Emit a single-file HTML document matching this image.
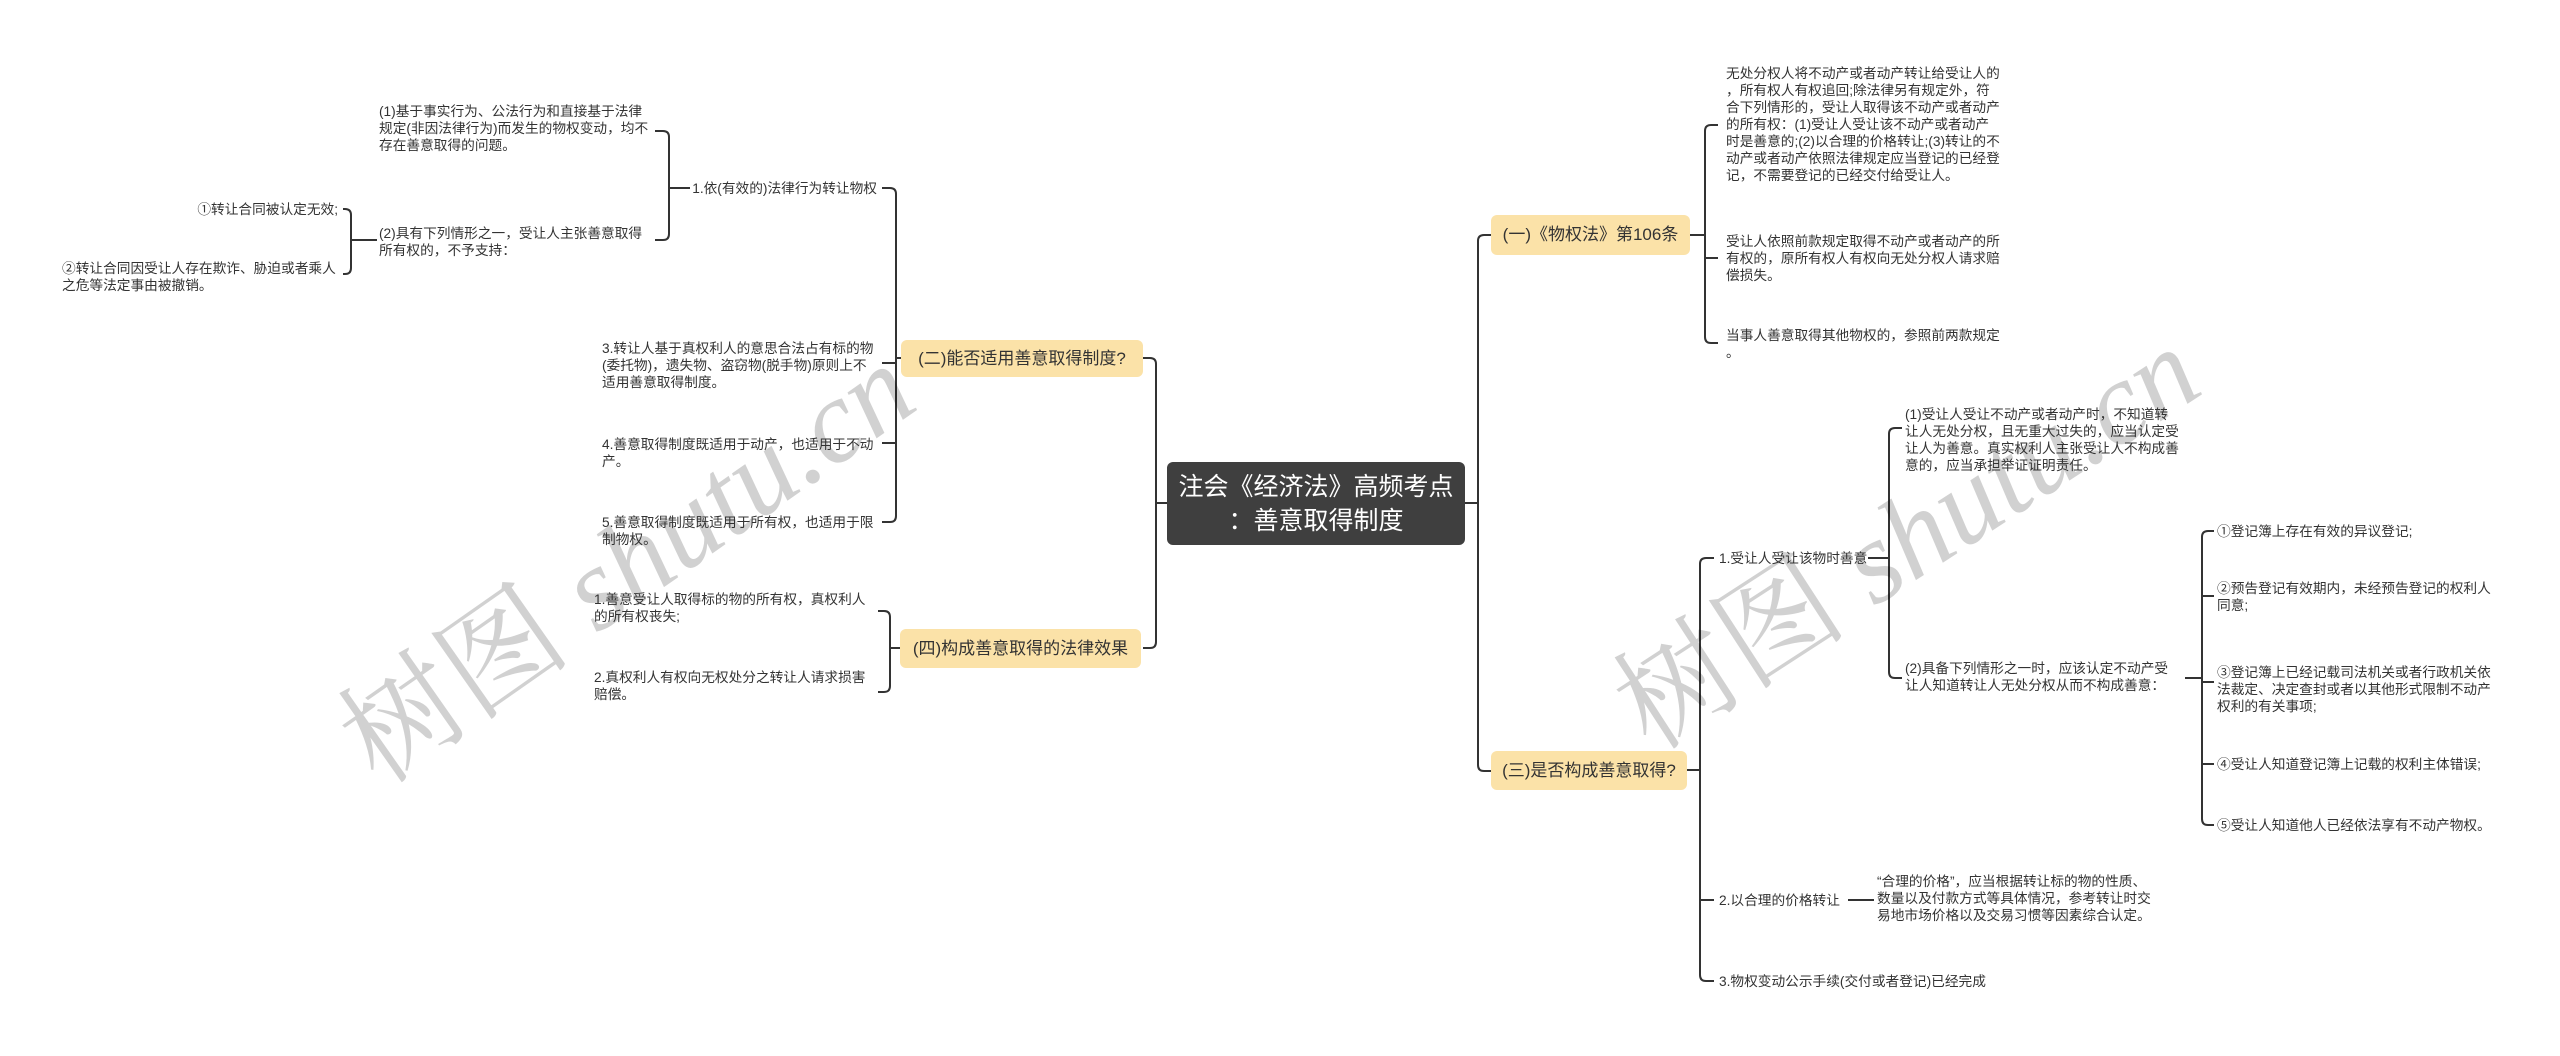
<!DOCTYPE html>
<html><head><meta charset="utf-8">
<style>
html,body{margin:0;padding:0;background:#fff;}
body{width:2560px;height:1056px;position:relative;overflow:hidden;font-family:"Liberation Sans","Noto Sans CJK SC",sans-serif;color:#333;}
.t{position:absolute;font-size:13.7px;line-height:17px;white-space:nowrap;}
.r{text-align:right;}
.b{position:absolute;background:#fbe2a8;border-radius:6px;font-size:17px;line-height:20px;display:flex;align-items:center;justify-content:center;white-space:nowrap;color:#333;}
.root{position:absolute;left:1167px;top:462px;width:298px;height:83px;background:#3f3f3f;border-radius:6px;color:#fff;font-size:25px;line-height:34px;text-align:center;display:flex;align-items:center;justify-content:center;}
.wm{position:absolute;font-family:"Liberation Serif","Noto Serif CJK SC",serif;font-size:118px;color:rgba(0,0,0,0.18);white-space:nowrap;transform-origin:center;}
svg{position:absolute;left:0;top:0;}
</style></head><body>
<svg width="2560" height="1056" fill="none" stroke="#333" stroke-width="2">
<path d="M1167,503 H1156 M1143,358 H1150 Q1156,358 1156,364 V642 Q1156,648 1150,648 H1143"/>
<path d="M1465,503 H1478 M1491,235 H1484 Q1478,235 1478,241 V765 Q1478,771 1484,771 H1491"/>
<path d="M901,358 H896 M882,188 H890 Q896,188 896,194 V516 Q896,522 890,522 H882 M896,363 H882 M896,443 H882"/>
<path d="M690,188 H669 M655,131 H663 Q669,131 669,137 V234 Q669,240 663,240 H655"/>
<path d="M377,240 H351 M343,209 H345 Q351,209 351,215 V268 Q351,274 345,274 H343"/>
<path d="M900,648 H890 M878,611 H884 Q890,611 890,617 V686 Q890,692 884,692 H878"/>
<path d="M1690,235 H1705 M1718,125 H1711 Q1705,125 1705,131 V337 Q1705,343 1711,343 H1718 M1705,258 H1718"/>
<path d="M1687,770 H1700 M1714,558 H1706 Q1700,558 1700,564 V975 Q1700,981 1706,981 H1714 M1700,900 H1714"/>
<path d="M1868,558 H1889 M1902,428 H1895 Q1889,428 1889,434 V672 Q1889,678 1895,678 H1902"/>
<path d="M2185,678 H2202 M2214,531 H2208 Q2202,531 2202,537 V819 Q2202,825 2208,825 H2214 M2202,596 H2214 M2202,682 H2214 M2202,764 H2214"/>
<path d="M1848,900 H1874"/>
</svg>

<div class="wm" style="left:290px;top:470px;transform:rotate(-35deg);">树图 <i>shutu.cn</i></div>
<div class="wm" style="left:1570px;top:444px;transform:rotate(-33deg);">树图 <i>shutu.cn</i></div>

<div class="root">注会《经济法》高频考点<br>：善意取得制度</div>

<div class="b" style="left:901px;top:340px;width:242px;height:37px;">(二)能否适用善意取得制度?</div>
<div class="b" style="left:900px;top:629px;width:241px;height:39px;">(四)构成善意取得的法律效果</div>
<div class="b" style="left:1491px;top:215px;width:199px;height:40px;">(一)《物权法》第106条</div>
<div class="b" style="left:1491px;top:751px;width:196px;height:39px;">(三)是否构成善意取得?</div>

<div class="t" style="left:379px;top:103px;">(1)基于事实行为、公法行为和直接基于法律<br>规定(非因法律行为)而发生的物权变动，均不<br>存在善意取得的问题。</div>
<div class="t" style="left:379px;top:225px;">(2)具有下列情形之一，受让人主张善意取得<br>所有权的，不予支持：</div>
<div class="t r" style="right:2222px;top:201px;">①转让合同被认定无效;</div>
<div class="t" style="left:62px;top:260px;">②转让合同因受让人存在欺诈、胁迫或者乘人<br>之危等法定事由被撤销。</div>
<div class="t r" style="right:1683px;top:180px;">1.依(有效的)法律行为转让物权</div>
<div class="t" style="left:602px;top:340px;">3.转让人基于真权利人的意思合法占有标的物<br>(委托物)，遗失物、盗窃物(脱手物)原则上不<br>适用善意取得制度。</div>
<div class="t" style="left:602px;top:436px;">4.善意取得制度既适用于动产，也适用于不动<br>产。</div>
<div class="t" style="left:602px;top:514px;">5.善意取得制度既适用于所有权，也适用于限<br>制物权。</div>
<div class="t" style="left:594px;top:591px;">1.善意受让人取得标的物的所有权，真权利人<br>的所有权丧失;</div>
<div class="t" style="left:594px;top:669px;">2.真权利人有权向无权处分之转让人请求损害<br>赔偿。</div>

<div class="t" style="left:1726px;top:65px;">无处分权人将不动产或者动产转让给受让人的<br>，所有权人有权追回;除法律另有规定外，符<br>合下列情形的，受让人取得该不动产或者动产<br>的所有权：(1)受让人受让该不动产或者动产<br>时是善意的;(2)以合理的价格转让;(3)转让的不<br>动产或者动产依照法律规定应当登记的已经登<br>记，不需要登记的已经交付给受让人。</div>
<div class="t" style="left:1726px;top:233px;">受让人依照前款规定取得不动产或者动产的所<br>有权的，原所有权人有权向无处分权人请求赔<br>偿损失。</div>
<div class="t" style="left:1726px;top:327px;">当事人善意取得其他物权的，参照前两款规定<br>。</div>

<div class="t" style="left:1719px;top:550px;">1.受让人受让该物时善意</div>
<div class="t" style="left:1905px;top:406px;">(1)受让人受让不动产或者动产时，不知道转<br>让人无处分权，且无重大过失的，应当认定受<br>让人为善意。真实权利人主张受让人不构成善<br>意的，应当承担举证证明责任。</div>
<div class="t" style="left:1905px;top:660px;">(2)具备下列情形之一时，应该认定不动产受<br>让人知道转让人无处分权从而不构成善意：</div>
<div class="t" style="left:2217px;top:523px;">①登记簿上存在有效的异议登记;</div>
<div class="t" style="left:2217px;top:580px;">②预告登记有效期内，未经预告登记的权利人<br>同意;</div>
<div class="t" style="left:2217px;top:664px;">③登记簿上已经记载司法机关或者行政机关依<br>法裁定、决定查封或者以其他形式限制不动产<br>权利的有关事项;</div>
<div class="t" style="left:2217px;top:756px;">④受让人知道登记簿上记载的权利主体错误;</div>
<div class="t" style="left:2217px;top:817px;">⑤受让人知道他人已经依法享有不动产物权。</div>
<div class="t" style="left:1719px;top:892px;">2.以合理的价格转让</div>
<div class="t" style="left:1877px;top:873px;">“合理的价格”，应当根据转让标的物的性质、<br>数量以及付款方式等具体情况，参考转让时交<br>易地市场价格以及交易习惯等因素综合认定。</div>
<div class="t" style="left:1719px;top:973px;">3.物权变动公示手续(交付或者登记)已经完成</div>
</body></html>
